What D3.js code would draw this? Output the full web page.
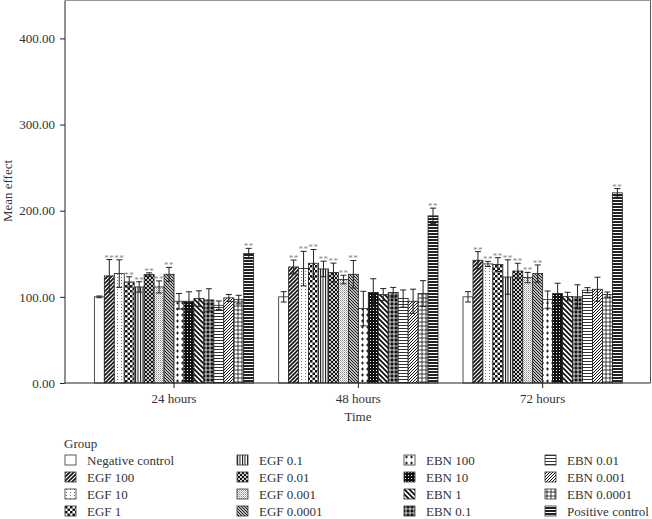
<!DOCTYPE html>
<html>
<head>
<meta charset="utf-8">
<script src="https://cdn.jsdelivr.net/npm/d3@7"></script>
<style>
  html, body { margin: 0; padding: 0; background: #fff; }
  svg { display: block; }
  text { font-family: "Liberation Serif", "DejaVu Serif", serif; fill: #333; }
</style>
</head>
<body>
<svg id="chart" width="652" height="519"></svg>
<script>
// ---------- data ----------
const times = ["24 hours", "48 hours", "72 hours"];
const groups = ["Negative control", "EGF 100", "EGF 10", "EGF 1", "EGF 0.1", "EGF 0.01", "EGF 0.001", "EGF 0.0001",
                "EBN 100", "EBN 10", "EBN 1", "EBN 0.1", "EBN 0.01", "EBN 0.001", "EBN 0.0001", "Positive control"];
const mean24 = [100, 124.3, 127, 117.3, 111.5, 125.9, 111.5, 126.2, 94.9, 94.9, 98, 96.4, 90.2, 98.8, 96.8, 150.3];
const err24  = [1, 19, 16, 6, 6, 2, 7, 8, 9, 11, 9, 13, 5, 4, 5, 6];
const mean48 = [100, 134.7, 132.8, 139, 132.4, 128.2, 120.1, 126.2, 86.4, 105, 102.6, 105, 98, 94.9, 103.8, 194];
const err48  = [6, 8, 20, 16, 9, 11, 5, 16, 20, 16, 7, 6, 10, 14, 15, 9];
const mean72 = [100, 142.5, 138.2, 137.5, 123, 130, 122.4, 127, 96.8, 103.8, 100.3, 100, 107.7, 108.8, 102.6, 220.7];
const err72  = [6, 10, 3, 8, 20, 9, 6, 10, 10, 12, 5, 14, 3, 14, 3, 5];
// groups marked "**" (significant) in every time point
const starred = ["EGF 100", "EGF 10", "EGF 1", "EGF 0.1", "EGF 0.01", "EGF 0.001", "EGF 0.0001", "Positive control"];
const yTicks = [0, 100, 200, 300, 400];

const means = [mean24, mean48, mean72];
const errs = [err24, err48, err72];
const rows = [];
times.forEach((t, ti) => groups.forEach((g, gi) => rows.push({time: t, group: g, gi, mean: means[ti][gi], err: errs[ti][gi]})));

// ---------- layout ----------
const svg = d3.select("#chart");
const plotL = 65, plotR = 650.5, plotT = 0.5, plotB = 383;

const x0 = d3.scaleBand().domain(times).range([81.85, 634.85]).paddingInner(0.1357).paddingOuter(0.0679);
const x1 = d3.scaleBand().domain(groups).range([0, x0.bandwidth()]).padding(0);
const y = d3.scaleLinear().domain([0, 444]).range([plotB, plotT]);

// ---------- patterns ----------
const defs = svg.append("defs");
function pat(id, w, h, bg, draw) {
  const p = defs.append("pattern").attr("id", id).attr("patternUnits", "userSpaceOnUse")
    .attr("width", w).attr("height", h);
  p.append("rect").attr("width", w).attr("height", h).attr("fill", bg);
  draw(p);
}
const K = "#111";
pat("p0", 4, 4, "#fff", p => {});
pat("p1", 4, 4, "#fff", p => p.append("path").attr("d", "M-1,1 L1,-1 M0,4 L4,0 M3,5 L5,3").attr("stroke", K).attr("stroke-width", 1.6));
pat("p2", 4, 3, "#fff", p => p.append("rect").attr("x", 1).attr("y", 1).attr("width", 1).attr("height", 1).attr("fill", "#777"));
pat("p3", 5, 5, "#fff", p => { p.append("rect").attr("width", 2.5).attr("height", 2.5).attr("fill", K);
                                 p.append("rect").attr("x", 2.5).attr("y", 2.5).attr("width", 2.5).attr("height", 2.5).attr("fill", K); });
pat("p4", 2.5, 2, "#fff", p => p.append("rect").attr("width", 1).attr("height", 2).attr("fill", K));
pat("p5", 4, 4, K, p => p.append("path").attr("d", "M0,0 L4,4 M4,0 L0,4").attr("stroke", "#fff").attr("stroke-width", 0.8));
pat("p6", 2, 2, "#fff", p => { p.append("rect").attr("width", 1).attr("height", 1).attr("fill", "#888");
                                 p.append("rect").attr("x", 1).attr("y", 1).attr("width", 1).attr("height", 1).attr("fill", "#bbb"); });
pat("p7", 3, 3, "#fff", p => p.append("path").attr("d", "M-1,-1 L4,4 M-1,2 L1,4 M2,-1 L4,1").attr("stroke", K).attr("stroke-width", 1.1));
pat("p8", 5, 6, "#fff", p => p.append("path").attr("d", "M2.5,1.5 V4.5 M1,3 H4").attr("stroke", K).attr("stroke-width", 0.9));
pat("p9", 3, 3, K, p => p.append("rect").attr("x", 1).attr("y", 1).attr("width", 1).attr("height", 1).attr("fill", "#fff"));
pat("p10", 5, 5, "#fff", p => p.append("path").attr("d", "M-1,-1 L6,6 M-1,4 L1,6 M4,-1 L6,1").attr("stroke", K).attr("stroke-width", 1.8));
pat("p11", 4, 4, K, p => p.append("path").attr("d", "M0,2 H4 M2,0 V4").attr("stroke", "#fff").attr("stroke-width", 0.8));
pat("p12", 2, 3, "#fff", p => p.append("rect").attr("y", 1).attr("width", 2).attr("height", 1).attr("fill", "#333"));
pat("p13", 3, 3, "#fff", p => p.append("path").attr("d", "M-1,1 L1,-1 M0,3 L3,0 M2,4 L4,2").attr("stroke", K).attr("stroke-width", 1));
pat("p14", 4, 4, "#fff", p => p.append("path").attr("d", "M0,2 H4 M2,0 V4").attr("stroke", K).attr("stroke-width", 0.8));
pat("p15", 2, 3, "#222", p => p.append("rect").attr("y", 1).attr("width", 2).attr("height", 1).attr("fill", "#fff"));
const fillOf = g => `url(#p${groups.indexOf(g)})`;

// ---------- frame ----------
svg.append("line").attr("x1", plotL).attr("x2", plotR).attr("y1", plotT).attr("y2", plotT).attr("stroke", "#999");
svg.append("line").attr("x1", plotR).attr("x2", plotR).attr("y1", plotT).attr("y2", plotB).attr("stroke", "#555");

// ---------- bars ----------
const g = svg.append("g");
g.selectAll("rect.bar").data(rows).join("rect").attr("class", "bar")
  .attr("x", d => x0(d.time) + x1(d.group))
  .attr("y", d => y(d.mean))
  .attr("width", x1.bandwidth())
  .attr("height", d => y(0) - y(d.mean))
  .attr("fill", d => fillOf(d.group))
  .attr("stroke", "#222").attr("stroke-width", 0.8);

// error bars
const eb = g.selectAll("g.err").data(rows).join("g").attr("class", "err")
  .attr("transform", d => `translate(${x0(d.time) + x1(d.group) + x1.bandwidth() / 2},0)`);
eb.append("line").attr("y1", d => y(d.mean - d.err)).attr("y2", d => y(d.mean + d.err)).attr("stroke", "#222").attr("stroke-width", 1);
eb.append("line").attr("x1", -3).attr("x2", 3).attr("y1", d => y(d.mean + d.err)).attr("y2", d => y(d.mean + d.err)).attr("stroke", "#222");
eb.append("line").attr("x1", -3).attr("x2", 3).attr("y1", d => y(d.mean - d.err)).attr("y2", d => y(d.mean - d.err)).attr("stroke", "#222");

// significance stars
g.selectAll("text.star").data(rows.filter(d => starred.includes(d.group))).join("text").attr("class", "star")
  .attr("x", d => x0(d.time) + x1(d.group) + x1.bandwidth() / 2)
  .attr("y", d => y(d.mean + d.err) + 1)
  .attr("text-anchor", "middle").attr("font-size", 9).style("fill", "#888").attr("letter-spacing", 0.5)
  .text("**");

// ---------- axes ----------
const yAxis = svg.append("g").attr("transform", `translate(${plotL},0)`)
  .call(d3.axisLeft(y).tickValues(yTicks).tickFormat(d3.format(".2f")).tickSize(5).tickSizeOuter(0));
yAxis.select(".domain").attr("stroke", "#222").attr("d", `M0,${plotT}V${plotB}`);
yAxis.selectAll(".tick line").attr("stroke", "#222");
yAxis.selectAll(".tick text").attr("font-size", 13).attr("font-family", "Liberation Serif").style("fill", "#333").attr("dx", -2);

const xAxis = svg.append("g").attr("transform", `translate(0,${plotB})`)
  .call(d3.axisBottom(x0).tickSize(5).tickSizeOuter(0));
xAxis.select(".domain").attr("stroke", "#222").attr("d", `M${plotL},0H${plotR}`);
xAxis.selectAll(".tick line").attr("stroke", "#222");
xAxis.selectAll(".tick text").attr("font-size", 13).attr("font-family", "Liberation Serif").style("fill", "#333").attr("dy", 12);

svg.append("text").attr("x", 358).attr("y", 421).attr("text-anchor", "middle").attr("font-size", 13).text("Time");
svg.append("text").attr("transform", "translate(12,191) rotate(-90)").attr("text-anchor", "middle").attr("font-size", 13).text("Mean effect");

// ---------- legend ----------
svg.append("text").attr("x", 64).attr("y", 448).attr("font-size", 13).text("Group");
const colX = [65, 237, 404, 545];
const leg = svg.append("g").selectAll("g").data(groups).join("g")
  .attr("transform", (d, i) => `translate(${colX[Math.floor(i / 4)]},${460 + (i % 4) * 17})`);
leg.append("rect").attr("x", 0).attr("y", -5).attr("width", 11).attr("height", 10)
  .attr("fill", d => fillOf(d)).attr("stroke", "#333").attr("stroke-width", 0.8);
leg.append("text").attr("x", 22).attr("y", 4.5).attr("font-size", 13).text(d => d);
</script>
</body>
</html>
